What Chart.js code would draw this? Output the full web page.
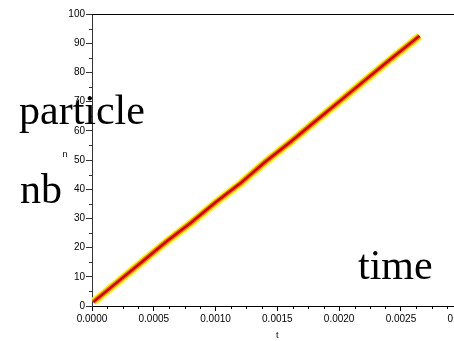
<!DOCTYPE html>
<html>
<head>
<meta charset="utf-8">
<script src="https://cdn.jsdelivr.net/npm/chart.js@4/dist/chart.umd.min.js"></script>
<style>
html,body{margin:0;padding:0;background:#fff;overflow:hidden;width:454px;height:341px;}
canvas{display:block;}
</style>
</head>
<body>
<canvas id="c" width="480" height="341" style="width:480px;height:341px"></canvas>
<script>
// Data
const timeValues = [0.00001, 0.0002, 0.0004, 0.0006, 0.0008, 0.0010, 0.0012, 0.0014, 0.0016, 0.0018, 0.0020, 0.0022, 0.0024, 0.00265];
const particleCounts = [1.4, 8, 15, 22, 28.5, 35.5, 42, 49.3, 56, 63, 70, 77, 84, 92.5];
const xTickLabels = ['0.0000','0.0005','0.0010','0.0015','0.0020','0.0025','0.0030'];
const yTickLabels = ['0','10','20','30','40','50','60','70','80','90','100'];
const overlayTexts = ['particle', 'nb', 'time'];
const xTitle = 't';
const yTitle = 'n';

const points = timeValues.map((t, i) => ({x: t, y: particleCounts[i]}));

const tickFont = {family: 'Liberation Sans, Arial, sans-serif', size: 10};

const decor = {
  id: 'decor',
  afterDraw(chart) {
    const ctx = chart.ctx;
    const a = chart.chartArea;
    const xs = chart.scales.x, ys = chart.scales.y;
    ctx.save();
    // top frame line
    ctx.strokeStyle = '#000';
    ctx.lineWidth = 1;
    ctx.beginPath();
    ctx.moveTo(a.left, Math.round(a.top) + 0.5);
    ctx.lineTo(chart.width, Math.round(a.top) + 0.5);
    ctx.stroke();
    // minor ticks y (every 5)
    ctx.strokeStyle = '#333';
    for (let v = 5; v < 100; v += 10) {
      const py = Math.round(ys.getPixelForValue(v)) + 0.5;
      ctx.beginPath();
      ctx.moveTo(a.left - 3, py);
      ctx.lineTo(a.left, py);
      ctx.stroke();
    }
    // minor ticks x (every 0.000125)
    ctx.strokeStyle = '#000';
    for (let k = 1; k < 24; k++) {
      if (k % 4 === 0) continue;
      const px = Math.round(xs.getPixelForValue(k * 0.000125)) + 0.5;
      ctx.beginPath();
      ctx.moveTo(px, a.bottom);
      ctx.lineTo(px, a.bottom + 3);
      ctx.stroke();
    }
    // y title (unrotated)
    ctx.fillStyle = '#000';
    ctx.font = '9px Liberation Sans, Arial, sans-serif';
    ctx.textAlign = 'center';
    ctx.textBaseline = 'middle';
    ctx.fillText(yTitle, 65, (a.top + a.bottom) / 2 - 5);
    // overlay texts
    ctx.font = '42px Liberation Serif, Times New Roman, serif';
    ctx.textAlign = 'left';
    ctx.textBaseline = 'alphabetic';
    ctx.fillText(overlayTexts[0], 19, 124);
    ctx.fillText(overlayTexts[1], 20, 203);
    ctx.fillText(overlayTexts[2], 358, 279);
    ctx.restore();
  }
};

new Chart(document.getElementById('c'), {
  type: 'line',
  data: {
    datasets: [
      {data: points, borderColor: '#d00000', borderWidth: 2.5, pointRadius: 0, tension: 0, order: 1},
      {data: points, borderColor: '#ff7a00', borderWidth: 5, pointRadius: 0, tension: 0, order: 2},
      {data: points, borderColor: '#ffff10', borderWidth: 8, pointRadius: 0, tension: 0, order: 3}
    ]
  },
  options: {
    responsive: false,
    animation: false,
    events: [],
    layout: {padding: {left: 0, right: 16, top: 14, bottom: 0}},
    plugins: {legend: {display: false}, tooltip: {enabled: false}},
    scales: {
      x: {
        type: 'linear',
        min: 0, max: 0.003,
        afterBuildTicks(s) { s.ticks = xTickLabels.map(l => ({value: parseFloat(l)})); },
        ticks: {
          font: tickFont, color: '#000', padding: 2, maxRotation: 0, autoSkip: false,
          callback: (v, i) => xTickLabels[i]
        },
        grid: {drawOnChartArea: false, drawTicks: true, tickLength: 5, color: '#000'},
        border: {display: true, color: '#000'},
        title: {display: true, text: xTitle, font: {family: 'Liberation Sans, Arial, sans-serif', size: 9}, color: '#000', padding: {top: 5, bottom: 0}},
        afterFit(s) { s.height = 35; }
      },
      y: {
        type: 'linear',
        min: 0, max: 100,
        afterBuildTicks(s) { s.ticks = yTickLabels.map(l => ({value: parseFloat(l)})); },
        ticks: {
          font: tickFont, color: '#000', padding: 1, autoSkip: false,
          callback: (v, i) => yTickLabels[i]
        },
        grid: {drawOnChartArea: false, drawTicks: true, tickLength: 6, color: '#333'},
        border: {display: true, color: '#333'},
        afterFit(s) { s.width = 92; }
      }
    }
  },
  plugins: [decor]
});
</script>
</body>
</html>
